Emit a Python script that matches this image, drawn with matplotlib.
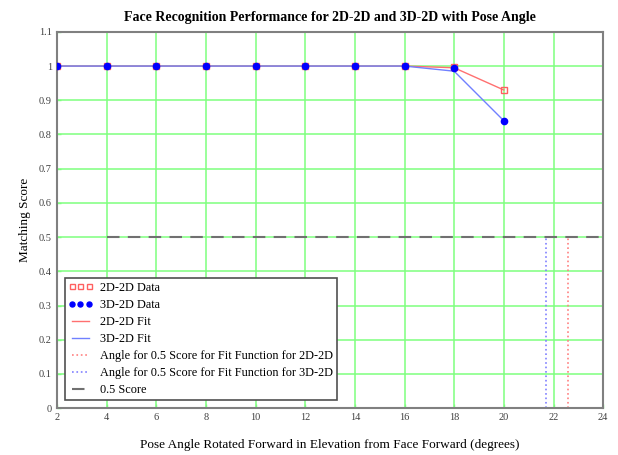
import matplotlib.pyplot as plt
import numpy as np

# pose angle (degrees) and matching scores
angles = [2, 4, 6, 8, 10, 12, 14, 16, 18, 20]
score_2d2d = [1, 1, 1, 1, 1, 1, 1, 1, 0.997, 0.93]
score_3d2d = [1, 1, 1, 1, 1, 1, 1, 1, 0.995, 0.84]
fit_2d2d = [1, 1, 1, 1, 1, 1, 1, 1, 0.995, 0.93]
fit_3d2d = [1, 1, 1, 1, 1, 1, 1, 1, 0.985, 0.84]
angle_half_2d2d = 22.6
angle_half_3d2d = 21.7
half_x = [4, 24]
half_y = [0.5, 0.5]

plt.rcParams['font.family'] = ['Liberation Serif', 'DejaVu Serif']

fig = plt.figure(figsize=(6.18, 4.55), dpi=100)
ax = fig.add_axes([0.092, 0.103, 0.884, 0.827])

green = '#7fff7f'
ax.grid(True, color=green, linewidth=1.1, zorder=0)
ax.set_axisbelow(True)

ax.plot(angles, score_2d2d, 's', mfc='none', mec='#ff6060', ms=4.5, mew=1, label='2D-2D Data', zorder=3)
ax.plot(angles, score_3d2d, 'o', color='blue', ms=4.5, label='3D-2D Data', zorder=4)
ax.plot(angles, fit_2d2d, '-', color='#ff7070', lw=1, label='2D-2D Fit', zorder=2)
ax.plot(angles, fit_3d2d, '-', color='#7080ff', lw=1, label='3D-2D Fit', zorder=2)
ax.plot([angle_half_2d2d] * 2, [0, 0.5], ':', color='#ff8080', lw=1.2,
        label='Angle for 0.5 Score for Fit Function for 2D-2D', zorder=2)
ax.plot([angle_half_3d2d] * 2, [0, 0.5], ':', color='#8080ff', lw=1.2,
        label='Angle for 0.5 Score for Fit Function for 3D-2D', zorder=2)
ax.plot(half_x, half_y, '--', color='#707070', lw=1.5, dashes=(6, 4), label='0.5 Score', zorder=2)

ax.set_xlim(2, 24)
ax.set_ylim(0, 1.1)
ax.set_xticks(np.arange(2, 25, 2))
ax.set_yticks(np.round(np.arange(0, 1.11, 0.1), 1))
ax.set_yticklabels(['0', '0.1', '0.2', '0.3', '0.4', '0.5', '0.6', '0.7', '0.8', '0.9', '1', '1.1'])
ax.tick_params(labelsize=7.5, colors='#404040', length=3, direction='in', width=1)
ax.tick_params(axis='both', color=green)
for s in ax.spines.values():
    s.set_color('#808080')
    s.set_linewidth(1.5)

ax.set_title('Face Recognition Performance for 2D-2D and 3D-2D with Pose Angle',
             fontsize=10, fontweight='bold', pad=8)
ax.set_xlabel('Pose Angle Rotated Forward in Elevation from Face Forward (degrees)', fontsize=9.5, labelpad=12)
ax.set_ylabel('Matching Score', fontsize=9.5, labelpad=6)

leg = ax.legend(loc='lower left', numpoints=3, fontsize=8.8, handlelength=2.0,
                borderpad=0.3, labelspacing=0.42, handletextpad=0.6,
                fancybox=False, framealpha=1, edgecolor='#505050',
                bbox_to_anchor=(0.003, 0.005), markerscale=0.8)
leg.get_frame().set_linewidth(1.2)

plt.savefig('out.png', dpi=100)
